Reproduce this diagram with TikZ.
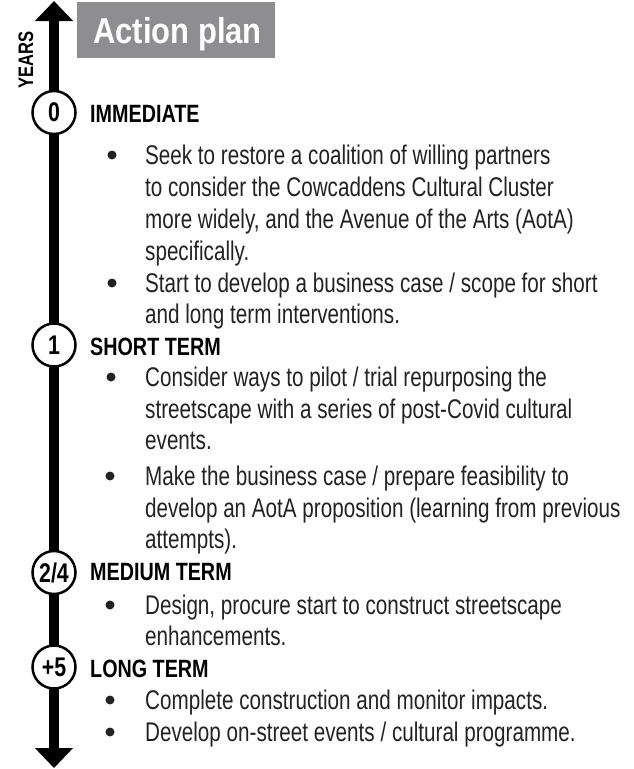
\documentclass[tikz,border=0pt]{standalone}
\usepackage{fontspec}
\setmainfont{Liberation Sans}[FakeStretch=0.765]
\newfontfamily\boldcn{Liberation Sans Bold}[FakeStretch=0.79]
\newfontfamily\titlecn{Liberation Sans Bold}[FakeStretch=0.86]
\usetikzlibrary{arrows.meta}
\definecolor{boxgray}{RGB}{142,142,144}
\definecolor{bodyink}{RGB}{34,34,34}
\tikzset{
  body/.style={anchor=base west, inner sep=0pt, text=bodyink, font=\fontsize{27}{32}\selectfont},
  head/.style={anchor=base west, inner sep=0pt, font=\boldcn\fontsize{25}{30}\selectfont},
  bul/.style={circle, fill=bodyink, minimum size=9pt, inner sep=0pt},
  yearmark/.style={circle, draw=black, line width=2.5pt, fill=white, minimum size=43pt, inner sep=0pt, font=\boldcn\fontsize{27}{30}\selectfont},
  timeline/.style={line width=10pt, {Triangle[width=37pt,length=20pt]}-{Triangle[width=37pt,length=20pt]}},
  titlebox/.style={fill=boxgray, minimum width=198pt, minimum height=56pt, inner sep=0pt},
  titletext/.style={anchor=base west, inner sep=0pt, text=white, font=\titlecn\fontsize{36}{40}\selectfont},
  yearslabel/.style={anchor=base, rotate=90, inner sep=0pt, font=\boldcn\fontsize{21}{24}\selectfont}
}
\begin{document}
\begin{tikzpicture}[x=1pt,y=-1pt]
\useasboundingbox (0,0) rectangle (633,769);
% timeline
\coordinate (ttop) at (54,1);
\coordinate (tbot) at (54,768);
\draw[timeline] (ttop) -- (tbot);
\node[yearslabel] (years) at (33,60) {YEARS};
% title
\node[titlebox] (tbox) at (176,30) {};
\node[titletext] (title) at (93,43) {Action plan};
% year markers
\node[yearmark] (y0) at (54,112.5) {0};
\node[yearmark] (y1) at (54,345) {1};
\node[yearmark] (y24) at (54,572.5) {2/4};
\node[yearmark] (y5) at (54,667) {+5};
% IMMEDIATE
\node[head] (h0) at (90,122) {IMMEDIATE};
\node[bul] (b1) at (112,155) {};
\node[body] (l1a) at (145,164) {Seek to restore a coalition of willing partners};
\node[body] (l1b) at (145,196) {to consider the Cowcaddens Cultural Cluster};
\node[body] (l1c) at (145,228) {more widely, and the Avenue of the Arts (AotA)};
\node[body] (l1d) at (145,260) {specifically.};
\node[bul] (b2) at (112,283) {};
\node[body] (l2a) at (145,292) {Start to develop a business case / scope for short};
\node[body] (l2b) at (145,323) {and long term interventions.};
% SHORT TERM
\node[head] (h1) at (90,355) {SHORT TERM};
\node[bul] (b3) at (111,377) {};
\node[body] (l3a) at (145,386) {Consider ways to pilot / trial repurposing the};
\node[body] (l3b) at (145,418) {streetscape with a series of post-Covid cultural};
\node[body] (l3c) at (145,449) {events.};
\node[bul] (b4) at (110,476) {};
\node[body] (l4a) at (145,485) {Make the business case / prepare feasibility to};
\node[body] (l4b) at (145,517) {develop an AotA proposition (learning from previous};
\node[body] (l4c) at (145,548) {attempts).};
% MEDIUM TERM
\node[head] (h2) at (90,580) {MEDIUM TERM};
\node[bul] (b5) at (110,605) {};
\node[body] (l5a) at (145,614) {Design, procure start to construct streetscape};
\node[body] (l5b) at (145,645) {enhancements.};
% LONG TERM
\node[head] (h3) at (90,677) {LONG TERM};
\node[bul] (b6) at (110,700) {};
\node[body] (l6a) at (145,709) {Complete construction and monitor impacts.};
\node[bul] (b7) at (110,732) {};
\node[body] (l7a) at (145,741) {Develop on-street events / cultural programme.};
\end{tikzpicture}
\end{document}
